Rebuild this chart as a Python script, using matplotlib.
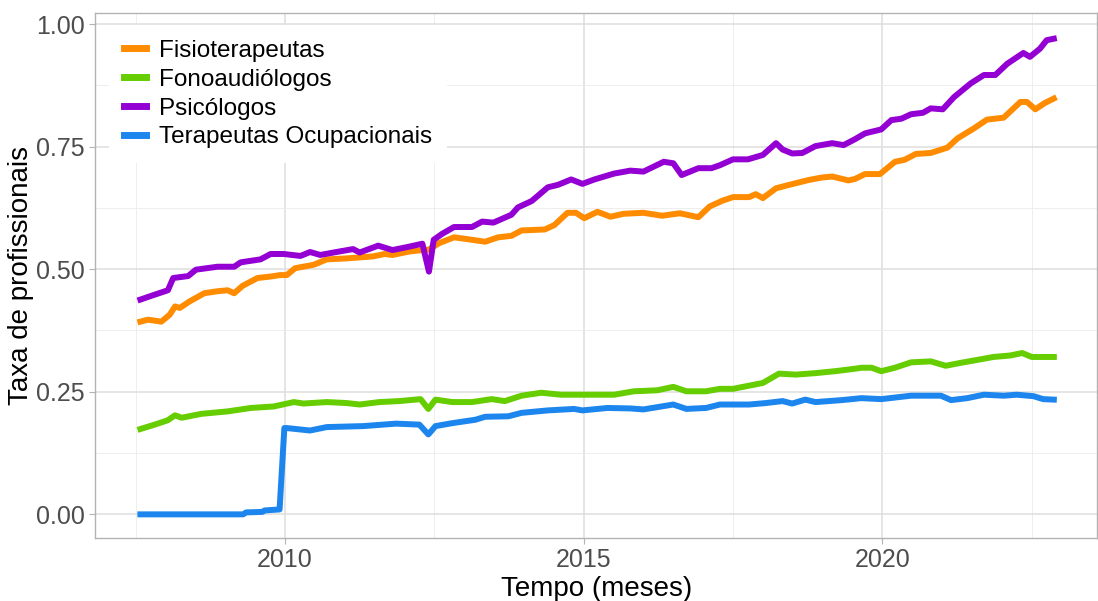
import matplotlib.pyplot as plt
from matplotlib.ticker import FixedLocator, FormatStrFormatter

plt.rcParams['font.family'] = ['Liberation Sans', 'DejaVu Sans']

# dados (ano decimal, taxa)
anos_fisio = [2007.58, 2007.71, 2007.93, 2008.07, 2008.16, 2008.24, 2008.40, 2008.65, 2008.87,
              2009.04, 2009.15, 2009.29, 2009.54, 2009.76, 2009.92, 2010.03, 2010.17, 2010.48,
              2010.70, 2011.03, 2011.25, 2011.47, 2011.67, 2011.80, 2012.08, 2012.30, 2012.41,
              2012.58, 2012.83, 2013.13, 2013.35, 2013.57, 2013.79, 2013.96, 2014.35, 2014.51,
              2014.73, 2014.87, 2015.01, 2015.23, 2015.45, 2015.67, 2016.00, 2016.31, 2016.61,
              2016.92, 2017.11, 2017.33, 2017.50, 2017.77, 2017.88, 2018.00, 2018.22, 2018.44,
              2018.77, 2018.99, 2019.16, 2019.43, 2019.54, 2019.71, 2019.96, 2020.21, 2020.37,
              2020.56, 2020.81, 2021.09, 2021.26, 2021.53, 2021.75, 2022.03, 2022.31, 2022.42,
              2022.56, 2022.72, 2022.87]
fisio = [0.393, 0.397, 0.393, 0.407, 0.424, 0.421, 0.434, 0.451, 0.455,
         0.457, 0.451, 0.466, 0.482, 0.485, 0.488, 0.488, 0.502, 0.509,
         0.520, 0.522, 0.524, 0.526, 0.531, 0.529, 0.536, 0.539, 0.540,
         0.553, 0.565, 0.560, 0.556, 0.565, 0.568, 0.579, 0.581, 0.590,
         0.615, 0.615, 0.604, 0.617, 0.607, 0.613, 0.615, 0.609, 0.614,
         0.606, 0.628, 0.640, 0.647, 0.647, 0.653, 0.645, 0.665, 0.672,
         0.682, 0.687, 0.689, 0.681, 0.684, 0.694, 0.694, 0.719, 0.723,
         0.735, 0.737, 0.748, 0.767, 0.787, 0.805, 0.809, 0.841, 0.841,
         0.826, 0.839, 0.848]

anos_fono = [2007.58, 2007.82, 2008.04, 2008.16, 2008.27, 2008.60, 2009.04, 2009.43, 2009.81,
             2010.15, 2010.31, 2010.70, 2011.03, 2011.25, 2011.58, 2011.91, 2012.27, 2012.40,
             2012.52, 2012.80, 2013.13, 2013.46, 2013.68, 2013.96, 2014.29, 2014.62, 2015.12,
             2015.51, 2015.84, 2016.23, 2016.50, 2016.72, 2017.05, 2017.28, 2017.50, 2018.00,
             2018.27, 2018.55, 2018.88, 2019.21, 2019.54, 2019.65, 2019.82, 2019.98, 2020.21,
             2020.48, 2020.81, 2021.06, 2021.31, 2021.59, 2021.86, 2022.14, 2022.34, 2022.50,
             2022.87]
fono = [0.174, 0.183, 0.192, 0.202, 0.197, 0.205, 0.210, 0.217, 0.220,
        0.229, 0.226, 0.229, 0.227, 0.224, 0.229, 0.231, 0.235, 0.215,
        0.234, 0.229, 0.229, 0.235, 0.231, 0.242, 0.248, 0.244, 0.244,
        0.244, 0.251, 0.253, 0.260, 0.251, 0.251, 0.256, 0.256, 0.268,
        0.287, 0.285, 0.288, 0.292, 0.297, 0.299, 0.299, 0.292, 0.299,
        0.310, 0.312, 0.303, 0.309, 0.315, 0.321, 0.324, 0.329, 0.321,
        0.321]

anos_psico = [2007.58, 2007.77, 2008.04, 2008.13, 2008.38, 2008.51, 2008.87, 2009.15, 2009.26,
              2009.59, 2009.76, 2009.98, 2010.26, 2010.42, 2010.59, 2010.86, 2011.14, 2011.25,
              2011.56, 2011.80, 2012.08, 2012.30, 2012.41, 2012.49, 2012.63, 2012.83, 2013.13,
              2013.30, 2013.49, 2013.79, 2013.90, 2014.13, 2014.40, 2014.57, 2014.79, 2014.98,
              2015.18, 2015.51, 2015.78, 2016.00, 2016.34, 2016.50, 2016.64, 2016.92, 2017.14,
              2017.28, 2017.50, 2017.75, 2018.00, 2018.22, 2018.33, 2018.49, 2018.66, 2018.88,
              2019.16, 2019.35, 2019.54, 2019.71, 2019.98, 2020.15, 2020.32, 2020.48, 2020.68,
              2020.81, 2021.01, 2021.20, 2021.48, 2021.70, 2021.89, 2022.09, 2022.36, 2022.47,
              2022.64, 2022.75, 2022.87]
psico = [0.438, 0.446, 0.457, 0.482, 0.486, 0.499, 0.505, 0.505, 0.514,
         0.520, 0.531, 0.531, 0.527, 0.535, 0.529, 0.535, 0.541, 0.534,
         0.548, 0.539, 0.546, 0.552, 0.495, 0.560, 0.572, 0.586, 0.586,
         0.597, 0.595, 0.611, 0.626, 0.639, 0.667, 0.672, 0.683, 0.674,
         0.683, 0.695, 0.701, 0.699, 0.719, 0.716, 0.692, 0.706, 0.706,
         0.712, 0.724, 0.724, 0.733, 0.757, 0.744, 0.736, 0.737, 0.751,
         0.757, 0.753, 0.765, 0.777, 0.785, 0.804, 0.807, 0.816, 0.819,
         0.828, 0.826, 0.851, 0.879, 0.896, 0.896, 0.919, 0.941, 0.933,
         0.950, 0.967, 0.970]

anos_to = [2007.58, 2009.30, 2009.35, 2009.62, 2009.66, 2009.91, 2009.99, 2010.03, 2010.42,
           2010.70, 2011.31, 2011.86, 2012.25, 2012.40, 2012.52, 2012.80, 2013.19, 2013.35,
           2013.74, 2013.96, 2014.40, 2014.84, 2014.98, 2015.40, 2015.78, 2016.00, 2016.50,
           2016.72, 2017.05, 2017.28, 2017.77, 2018.05, 2018.33, 2018.49, 2018.71, 2018.88,
           2019.32, 2019.65, 2019.98, 2020.48, 2020.98, 2021.15, 2021.42, 2021.70, 2022.03,
           2022.25, 2022.53, 2022.69, 2022.87]
to = [0.000, 0.000, 0.004, 0.005, 0.008, 0.010, 0.176, 0.176, 0.171,
      0.178, 0.180, 0.185, 0.183, 0.163, 0.180, 0.186, 0.193, 0.199,
      0.200, 0.207, 0.212, 0.215, 0.212, 0.217, 0.216, 0.214, 0.224,
      0.215, 0.217, 0.224, 0.224, 0.227, 0.231, 0.226, 0.234, 0.229,
      0.233, 0.237, 0.235, 0.242, 0.242, 0.233, 0.237, 0.244, 0.242,
      0.244, 0.241, 0.235, 0.234]

series = [
    ('Fisioterapeutas', anos_fisio, fisio, '#FF8C00'),
    ('Fonoaudiólogos', anos_fono, fono, '#66CD00'),
    ('Psicólogos', anos_psico, psico, '#9400D3'),
    ('Terapeutas Ocupacionais', anos_to, to, '#1C86EE'),
]

fig = plt.figure(figsize=(10.98, 6.01), dpi=100)
ax = fig.add_axes([0.0865, 0.105, 0.913, 0.873])

for nome, x, y, cor in series:
    ax.plot(x, y, color=cor, linewidth=4.3, label=nome)

ax.set_xlim(2006.82, 2023.6)
ax.set_ylim(-0.048, 1.022)

ax.xaxis.set_major_locator(FixedLocator([2010, 2015, 2020]))
ax.xaxis.set_minor_locator(FixedLocator([2007.5, 2012.5, 2017.5, 2022.5]))
ax.yaxis.set_major_locator(FixedLocator([0, 0.25, 0.5, 0.75, 1.0]))
ax.yaxis.set_minor_locator(FixedLocator([0.125, 0.375, 0.625, 0.875]))
ax.yaxis.set_major_formatter(FormatStrFormatter('%.2f'))

ax.grid(True, which='major', color='#DEDEDE', linewidth=1.1)
ax.grid(True, which='minor', color='#EBEBEB', linewidth=0.6)
ax.set_axisbelow(True)
for s in ax.spines.values():
    s.set_color('#B3B3B3')
    s.set_linewidth(1.0)

ax.tick_params(which='major', length=4, color='#B3B3B3', labelsize=18, labelcolor='#4D4D4D')
ax.tick_params(which='minor', length=0)

ax.set_xlabel('Tempo (meses)', fontsize=20, labelpad=3)
ax.set_ylabel('Taxa de profissionais', fontsize=20, labelpad=1)

leg = ax.legend(loc='upper left', bbox_to_anchor=(0.002, 1.0), fontsize=17.5,
                handlelength=0.9, handletextpad=0.55, labelspacing=0.28,
                frameon=True, fancybox=False, framealpha=1, borderpad=0.6)
leg.get_frame().set_edgecolor('none')
leg.get_frame().set_facecolor('white')
for h in leg.get_lines():
    h.set_linewidth(5)

fig.savefig('out.png', dpi=100)
